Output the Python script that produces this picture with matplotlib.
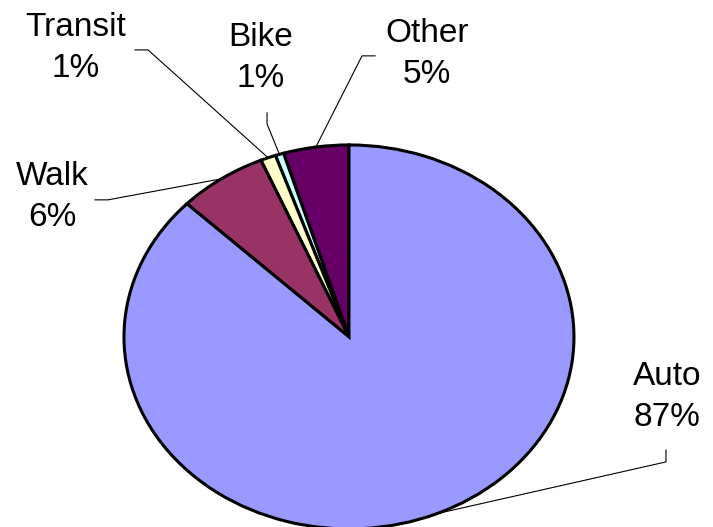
"""Commute mode share pie chart."""

from matplotlib import pyplot as plt
import numpy as np

# data, listed counterclockwise from 12 o'clock
modes = ["Other", "Bike", "Transit", "Walk", "Auto"]
shares = [4.7, 0.6, 1.1, 6.4, 87.2]
colors = ["#660066", "#CCFFFF", "#FFFFCC", "#993366", "#9999FF"]

# label layout (data coords, pie radius = 1): text centre, line start, elbow
label_pos = {
    "Transit": (-1.213, 1.505),
    "Bike": (-0.391, 1.453),
    "Other": (0.347, 1.474),
    "Walk": (-1.32, 0.729),
    "Auto": (1.413, -0.3125),
}
leader_start = {
    "Transit": (-0.951, 1.495),
    "Bike": (-0.364, 1.167),
    "Other": (0.116, 1.464),
    "Walk": (-1.129, 0.714),
    "Auto": (1.409, -0.589),
}
leader_elbow = {
    "Transit": (-0.893, 1.495),
    "Bike": (-0.364, 1.109),
    "Other": (0.058, 1.464),
    "Walk": (-1.071, 0.714),
    "Auto": (1.409, -0.651),
}

fig = plt.figure(figsize=(7.13, 5.27), dpi=100)
ax = fig.add_axes([0, 0, 1, 1])

wedges, _ = ax.pie(shares, colors=colors, startangle=90, counterclock=True,
                   wedgeprops=dict(edgecolor="black", linewidth=2.2))
ax.set_aspect("auto")
ax.set_xlim(-1.551, 1.618)
ax.set_ylim(-0.990, 1.755)
ax.axis("off")

total = sum(shares)
for w, mode, val in zip(wedges, modes, shares):
    mid = np.deg2rad((w.theta1 + w.theta2) / 2)
    anchor = (np.cos(mid), np.sin(mid))
    sx, sy = leader_start[mode]
    ex, ey = leader_elbow[mode]
    ax.plot([sx, ex, anchor[0]], [sy, ey, anchor[1]], color="black", lw=0.8,
            clip_on=False)
    tx, ty = label_pos[mode]
    ax.text(tx, ty, f"{mode}\n{val / total * 100:.0f}%", ha="center", va="center",
            fontsize=24, family="Liberation Sans", linespacing=1.45)

fig.savefig("out.png", dpi=100)
